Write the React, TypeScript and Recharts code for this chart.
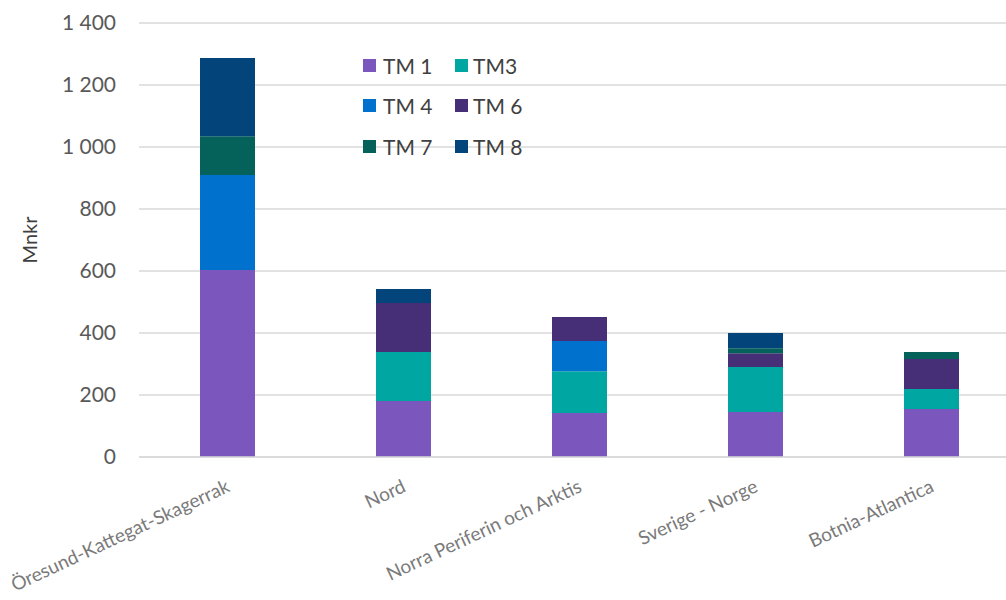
import React from "react";
import { BarChart, Bar, XAxis, YAxis, CartesianGrid, Label } from "recharts";

const categories = [
  "Öresund-Kattegat-Skagerrak",
  "Nord",
  "Norra Periferin och Arktis",
  "Sverige - Norge",
  "Botnia-Atlantica",
];
const tm1 = [603, 181, 142, 145, 155];
const tm3 = [0, 158, 135, 145, 64];
const tm4 = [307, 0, 97, 0, 0];
const tm6 = [0, 158, 78, 45, 97];
const tm7 = [125, 0, 0, 16, 23];
const tm8 = [252, 45, 0, 49, 0];
const yTicks = [0, 200, 400, 600, 800, 1000, 1200, 1400];

const seriesNames = ["TM 1", "TM3", "TM 4", "TM 6", "TM 7", "TM 8"];
const seriesKeys = ["tm1", "tm3", "tm4", "tm6", "tm7", "tm8"];
const seriesColors = ["#7B57BD", "#00A6A1", "#0072CE", "#472F78", "#04625A", "#03457A"];

const data = categories.map((c, i) => ({
  name: c,
  tm1: tm1[i],
  tm3: tm3[i],
  tm4: tm4[i],
  tm6: tm6[i],
  tm7: tm7[i],
  tm8: tm8[i],
}));

const FONT = "Lato, 'Open Sans', sans-serif";

const fmt = (v: number) => {
  const s = String(v);
  return s.length > 3 ? s.slice(0, s.length - 3) + " " + s.slice(s.length - 3) : s;
};

const XTick = (props: any) => {
  const { x, payload } = props;
  const ax = x + 4;
  const ay = 491;
  return (
    <text
      x={ax}
      y={ay}
      textAnchor="end"
      transform={`rotate(-25, ${ax}, ${ay})`}
      fill="#7a7a7a"
      fontSize={19}
      fontFamily={FONT}
    >
      {payload.value}
    </text>
  );
};

const LegendBox = () => {
  const rows = [
    [0, 1],
    [2, 3],
    [4, 5],
  ];
  return (
    <div
      style={{
        position: "absolute",
        left: 363,
        top: 45,
        fontFamily: FONT,
        fontSize: 21,
        color: "#404040",
      }}
    >
      {rows.map((r, ri) => (
        <div key={ri} style={{ display: "flex", height: 40.5, alignItems: "center" }}>
          {r.map((si, ci) => (
            <div key={si} style={{ display: "flex", alignItems: "center", width: ci === 0 ? 92 : 90 }}>
              <span
                style={{
                  display: "inline-block",
                  width: 13,
                  height: 13,
                  background: seriesColors[si],
                  marginRight: ci === 0 ? 7 : 5,
                }}
              />
              <span>{seriesNames[si]}</span>
            </div>
          ))}
        </div>
      ))}
    </div>
  );
};

export default function App() {
  return (
    <div style={{ position: "absolute", left: 0, top: 0, width: 1006, height: 600, overflow: "hidden", background: "#fff" }}>
      <BarChart
        width={1020}
        height={600}
        data={data}
        margin={{ top: 23, right: 1, left: 0, bottom: 3 }}
        barSize={55}
      >
        <CartesianGrid vertical={false} stroke="#d9d9d9" strokeWidth={1.3} />
        <XAxis
          dataKey="name"
          height={140}
          axisLine={{ stroke: "#d9d9d9", strokeWidth: 1.3 }}
          tickLine={false}
          tick={<XTick />}
          interval={0}
        />
        <YAxis
          width={139}
          domain={[0, 1400]}
          ticks={yTicks}
          tickFormatter={fmt}
          axisLine={false}
          tickLine={false}
          tickSize={0}
          tickMargin={23}
          tick={{ fill: "#595959", fontSize: 21, fontFamily: FONT }}
        >
          <Label
            value="Mnkr"
            angle={-90}
            position="insideLeft"
            offset={0}
            style={{ fill: "#404040", fontSize: 20, fontFamily: FONT, textAnchor: "middle" }}
            dx={30}
          />
        </YAxis>
        {seriesKeys.map((k, i) => (
          <Bar
            key={k}
            dataKey={k}
            stackId="a"
            fill={seriesColors[i]}
            name={seriesNames[i]}
            isAnimationActive={false}
          />
        ))}
      </BarChart>
      <LegendBox />
    </div>
  );
}
